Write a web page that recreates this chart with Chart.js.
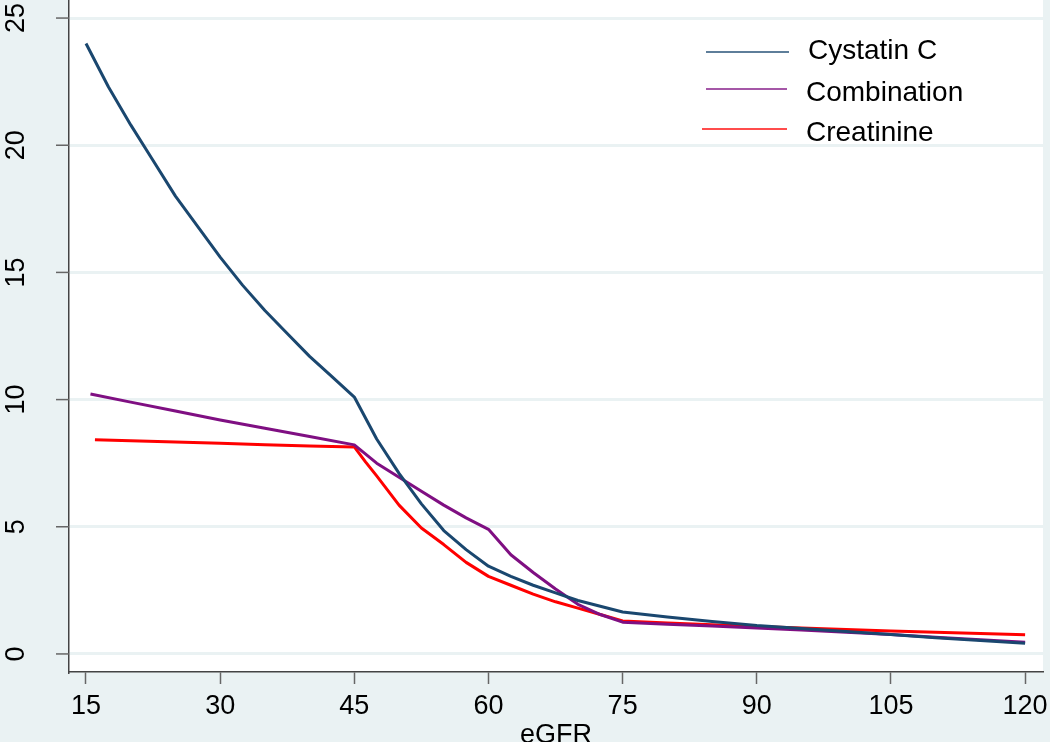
<!DOCTYPE html>
<html>
<head>
<meta charset="utf-8">
<script src="https://cdn.jsdelivr.net/npm/chart.js@4.4.1/dist/chart.umd.min.js"></script>
<style>
  html, body { margin: 0; padding: 0; background: #eaf2f3; }
  #wrap { width: 1050px; height: 742px; }
</style>
</head>
<body>
<div id="wrap"><canvas id="myChart" width="1050" height="742"></canvas></div>
<script>
// data
var seriesNames = ["Cystatin C", "Combination", "Creatinine"];
var seriesColors = ["#1a476f", "#7f0f82", "#ff0000"];

var cysX = [15, 17.5, 20, 22.5, 25, 27.5, 30, 32.5, 35, 37.5, 40, 42.5, 45, 47.5, 50, 52.5, 55, 57.5, 60, 62.5, 65, 67.5, 70, 75, 80, 85, 90, 95, 100, 105, 110, 115, 120];
var cysY = [24.0, 22.3, 20.8, 19.4, 18.0, 16.8, 15.6, 14.5, 13.5, 12.6, 11.7, 10.9, 10.1, 8.45, 7.1, 5.9, 4.85, 4.1, 3.45, 3.05, 2.7, 2.4, 2.1, 1.65, 1.45, 1.28, 1.12, 1.0, 0.88, 0.76, 0.64, 0.53, 0.42];

var combX = [15.5, 20, 25, 30, 35, 40, 45, 47.5, 50, 52.5, 55, 57.5, 60, 62.5, 65, 67.5, 70, 72.5, 75, 80, 85, 90, 95, 100, 105, 110, 115, 120];
var combY = [10.22, 9.9, 9.55, 9.2, 8.87, 8.55, 8.22, 7.5, 6.95, 6.4, 5.85, 5.35, 4.9, 3.9, 3.2, 2.55, 1.95, 1.55, 1.25, 1.17, 1.1, 1.02, 0.94, 0.85, 0.76, 0.66, 0.56, 0.46];

var creaX = [16, 20, 25, 30, 35, 40, 45, 46.25, 47.5, 50, 52.5, 55, 57.5, 60, 62.5, 65, 67.5, 70, 72.5, 75, 80, 85, 90, 95, 100, 105, 110, 115, 120];
var creaY = [8.42, 8.38, 8.33, 8.28, 8.22, 8.18, 8.14, 7.55, 7.0, 5.85, 4.95, 4.3, 3.6, 3.05, 2.7, 2.35, 2.05, 1.8, 1.55, 1.3, 1.22, 1.15, 1.08, 1.02, 0.96, 0.9, 0.85, 0.8, 0.75];

var xTicks = [15, 30, 45, 60, 75, 90, 105, 120];
var yTicks = [0, 5, 10, 15, 20, 25];

function toPoints(xs, ys){
    var pts = [];
    for(var i = 0; i < xs.length; i++){
        pts.push({x: xs[i], y: ys[i]});
    }
    return pts;
}

function makeSet(i, xs, ys){
    return {
        label: seriesNames[i],
        data: toPoints(xs, ys),
        borderColor: seriesColors[i],
        backgroundColor: seriesColors[i],
        borderWidth: 3,
        pointRadius: 0,
        fill: false,
        tension: 0,
        borderJoinStyle: 'round'
    };
}

var FONT = "'Liberation Sans', Arial, sans-serif";

// white plot region
var plotBg = {
    id: 'plotBg',
    beforeDraw: function(chart){
        var a = chart.chartArea, c = chart.ctx;
        c.save();
        c.fillStyle = '#ffffff';
        c.fillRect(a.left, 0, a.right - a.left, a.bottom);
        c.restore();
    }
};

// grey tick marks left of the y axis
var yTickMarks = {
    id: 'yTickMarks',
    afterDraw: function(chart){
        var y = chart.scales.y, c = chart.ctx;
        c.save();
        c.strokeStyle = '#666';
        c.lineWidth = 1.5;
        for(var i = 0; i < yTicks.length; i++){
            var py = y.getPixelForValue(yTicks[i]);
            c.beginPath();
            c.moveTo(y.right - 13, py);
            c.lineTo(y.right, py);
            c.stroke();
        }
        c.restore();
    }
};

// stata style legend inside the plot
var legendBox = {
    id: 'legendBox',
    afterDraw: function(chart){
        var c = chart.ctx;
        var rows = [
            {x1: 706, x2: 789, ly: 52, tx: 808, ty: 51},
            {x1: 706, x2: 787, ly: 89, tx: 806, ty: 93},
            {x1: 702, x2: 787, ly: 129, tx: 806, ty: 133}
        ];
        c.save();
        c.font = '28px ' + FONT;
        c.textBaseline = 'middle';
        c.fillStyle = '#000';
        for(var i = 0; i < rows.length; i++){
            var r = rows[i];
            c.strokeStyle = seriesColors[i];
            c.globalAlpha = 0.7;
            c.lineWidth = 2;
            c.beginPath();
            c.moveTo(r.x1, r.ly);
            c.lineTo(r.x2, r.ly);
            c.stroke();
            c.globalAlpha = 1;
            c.fillText(chart.data.datasets[i].label, r.tx, r.ty);
        }
        c.restore();
    }
};

var ctx = document.getElementById("myChart");
var myChart = new Chart(ctx, {
    type: 'line',
    data: {
        datasets: [
            makeSet(0, cysX, cysY),
            makeSet(1, combX, combY),
            makeSet(2, creaX, creaY)
        ]
    },
    plugins: [plotBg, yTickMarks, legendBox],
    options: {
        responsive: false,
        animation: false,
        layout: { padding: { left: 0, top: 0, bottom: 0, right: 7 } },
        plugins: {
            legend: { display: false },
            tooltip: { enabled: false }
        },
        scales: {
            x: {
                type: 'linear',
                min: 13.1,
                max: 122.0,
                afterBuildTicks: function(scale){
                    scale.ticks = xTicks.map(function(v){ return {value: v}; });
                },
                afterFit: function(scale){
                    scale.height = 70;
                    scale.paddingLeft = 0; scale.paddingRight = 0;
                },
                grid: {
                    drawOnChartArea: false,
                    drawTicks: true,
                    tickLength: 12,
                    tickWidth: 1.5,
                    tickColor: '#666'
                },
                border: { display: true, color: '#444', width: 1.5 },
                ticks: {
                    color: '#000',
                    padding: 6,
                    maxRotation: 0,
                    autoSkip: false,
                    font: { family: FONT, size: 27 }
                },
                title: {
                    display: true,
                    text: 'eGFR',
                    color: '#000',
                    padding: 0,
                    font: { family: FONT, size: 27, lineHeight: 0.5 }
                }
            },
            y: {
                type: 'linear',
                min: -0.71,
                max: 25.71,
                afterBuildTicks: function(scale){
                    scale.ticks = yTicks.map(function(v){ return {value: v}; });
                },
                afterFit: function(scale){
                    scale.width = 69;
                    scale.paddingTop = 0; scale.paddingBottom = 0;
                },
                grid: {
                    color: '#eaf2f3',
                    lineWidth: 3,
                    drawTicks: false
                },
                border: { display: true, color: '#444', width: 1.5 },
                ticks: {
                    color: '#000',
                    padding: 37,
                    minRotation: 90,
                    maxRotation: 90,
                    crossAlign: 'center',
                    autoSkip: false,
                    font: { family: FONT, size: 27 }
                }
            }
        }
    }
});
</script>
</body>
</html>
